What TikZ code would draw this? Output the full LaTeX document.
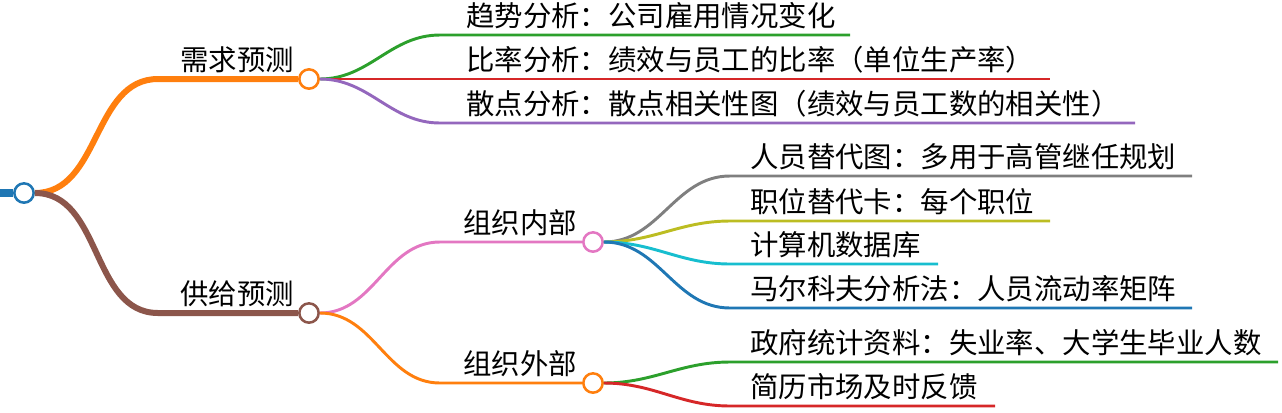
\documentclass[tikz,border=0pt]{standalone}
\usepackage{fontspec}
\newfontfamily\cjk{Noto Sans CJK SC}
\definecolor{mmBlue}{HTML}{1F77B4}
\definecolor{mmOrange}{HTML}{FF7F0E}
\definecolor{mmBrown}{HTML}{8C564B}
\definecolor{mmGreen}{HTML}{2CA02C}
\definecolor{mmRed}{HTML}{D62728}
\definecolor{mmPurple}{HTML}{9467BD}
\definecolor{mmPink}{HTML}{E377C2}
\definecolor{mmGray}{HTML}{7F7F7F}
\definecolor{mmOlive}{HTML}{BCBD22}
\definecolor{mmCyan}{HTML}{17BECF}
\tikzset{
  hub/.style={circle, draw=#1, fill=white, line width=1.9pt, minimum size=14.5pt, inner sep=0pt},
  label/.style={font=\cjk\fontsize{21.3}{25}\selectfont, anchor=base west, inner sep=0pt},
  trunk/.style={draw=#1, line width=4.5pt},
  twig/.style={draw=#1, line width=2.2pt}
}
\begin{document}
\begin{tikzpicture}[x=0.75pt, y=-0.75pt]
  \useasboundingbox (0,0) rectangle (1282,412);
  % hubs
  \node[hub=mmBlue] (root) at (24,193) {};
  \node[hub=mmOrange] (need) at (309,79) {};
  \node[hub=mmBrown] (supply) at (309,313) {};
  \node[hub=mmPink] (inner) at (593,242) {};
  \node[hub=mmOrange] (outer) at (593,383) {};
  % root
  \coordinate (rootL) at (0,193);
  \draw[mmBlue, line width=6.5pt] (rootL) -- (root.west);
  % level one
  \coordinate (needS) at (158,79);
  \coordinate (supplyS) at (158,313);
  \draw[trunk=mmOrange] (root.east) to[out=0, in=180] (needS) -- (need.west);
  \draw[trunk=mmBrown] (root.east) to[out=0, in=180] (supplyS) -- (supply.west);
  \node[label] (needT) at (180,70) {需求预测};
  \node[label] (supplyT) at (180,304) {供给预测};
  % demand leaves
  \coordinate (trendS) at (440,35);   \coordinate (trendE) at (850,35);
  \coordinate (ratioS) at (440,79);   \coordinate (ratioE) at (1050,79);
  \coordinate (scatS) at (440,123);   \coordinate (scatE) at (1135,123);
  \draw[twig=mmGreen] (need.east) to[out=0, in=180] (trendS) -- (trendE);
  \draw[twig=mmRed] (need.east) -- (ratioS) -- (ratioE);
  \draw[twig=mmPurple] (need.east) to[out=0, in=180] (scatS) -- (scatE);
  \node[label] (trendT) at (466,26) {趋势分析：公司雇用情况变化};
  \node[label] (ratioT) at (466,70) {比率分析：绩效与员工的比率（单位生产率）};
  \node[label] (scatT) at (466,114) {散点分析：散点相关性图（绩效与员工数的相关性）};
  % supply branches
  \coordinate (innerS) at (440,242);
  \coordinate (outerS) at (440,383);
  \draw[twig=mmPink] (supply.east) to[out=0, in=180] (innerS) -- (inner.west);
  \draw[twig=mmOrange] (supply.east) to[out=0, in=180] (outerS) -- (outer.west);
  \node[label] (innerT) at (463,233) {组织内部};
  \node[label] (outerT) at (463,374) {组织外部};
  % internal leaves
  \coordinate (replS) at (730,176);   \coordinate (replE) at (1192,176);
  \coordinate (cardS) at (730,221);   \coordinate (cardE) at (1050,221);
  \coordinate (dbS) at (730,264);     \coordinate (dbE) at (938,264);
  \coordinate (markS) at (730,308);   \coordinate (markE) at (1192,308);
  \draw[twig=mmGray] (inner.east) to[out=0, in=180] (replS) -- (replE);
  \draw[twig=mmOlive] (inner.east) to[out=0, in=180] (cardS) -- (cardE);
  \draw[twig=mmCyan] (inner.east) to[out=0, in=180] (dbS) -- (dbE);
  \draw[twig=mmBlue] (inner.east) to[out=0, in=180] (markS) -- (markE);
  \node[label] (replT) at (750,167) {人员替代图：多用于高管继任规划};
  \node[label] (cardT) at (750,212) {职位替代卡：每个职位};
  \node[label] (dbT) at (750,255) {计算机数据库};
  \node[label] (markT) at (750,299) {马尔科夫分析法：人员流动率矩阵};
  % external leaves
  \coordinate (govS) at (730,362);    \coordinate (govE) at (1278,362);
  \coordinate (cvS) at (730,406);     \coordinate (cvE) at (995,406);
  \draw[twig=mmGreen] (outer.east) to[out=0, in=180] (govS) -- (govE);
  \draw[twig=mmRed] (outer.east) to[out=0, in=180] (cvS) -- (cvE);
  \node[label] (govT) at (750,353) {政府统计资料：失业率、大学生毕业人数};
  \node[label] (cvT) at (750,397) {简历市场及时反馈};
\end{tikzpicture}
\end{document}
